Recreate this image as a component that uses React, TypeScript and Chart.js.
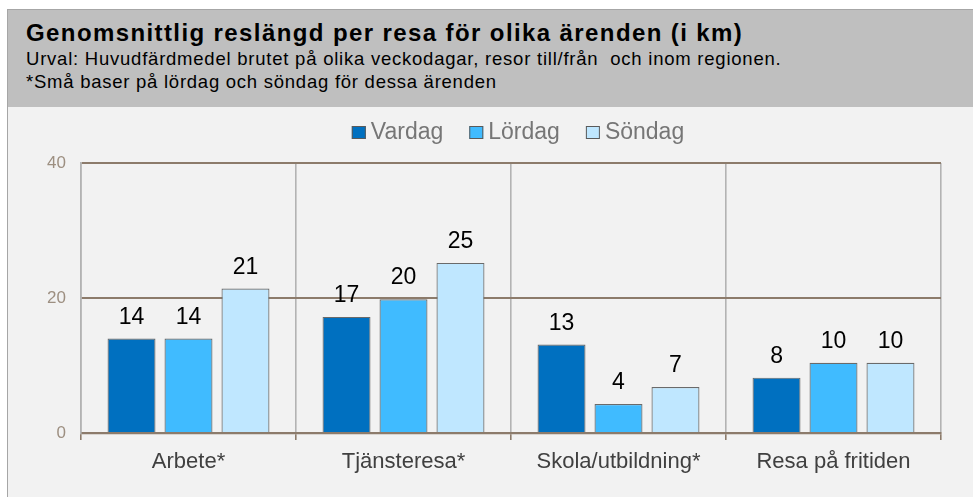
import React, { useEffect, useRef } from "react";
import { Chart, registerables } from "chart.js";

Chart.register(...registerables);

const categories = ["Arbete*", "Tjänsteresa*", "Skola/utbildning*", "Resa på fritiden"];
const seriesNames = ["Vardag", "Lördag", "Söndag"];
const vardag = [14.0, 17.2, 13.1, 8.2];
const lordag = [14.0, 19.8, 4.3, 10.4];
const sondag = [21.4, 25.2, 6.8, 10.4];
const yTicks = [0, 20, 40];
const colors = ["#0070C0", "#40BBFF", "#BFE7FF"];

const FONT = '"Liberation Sans", Arial, sans-serif';

const bgPlugin = {
  id: "bg",
  beforeDraw(chart: any) {
    const { ctx, width, height } = chart;
    ctx.save();
    ctx.fillStyle = "#f2f2f2";
    ctx.fillRect(0, 0, width, height);
    ctx.restore();
  },
};

const labelPlugin = {
  id: "valueLabels",
  afterDatasetsDraw(chart: any) {
    const { ctx } = chart;
    ctx.save();
    ctx.font = `23px ${FONT}`;
    ctx.fillStyle = "#000000";
    ctx.textAlign = "center";
    ctx.textBaseline = "alphabetic";
    chart.data.datasets.forEach((ds: any, i: number) => {
      const meta = chart.getDatasetMeta(i);
      meta.data.forEach((bar: any, j: number) => {
        const v = ds.data[j];
        ctx.fillText(String(Math.round(v)), bar.x, bar.y - 15);
      });
    });
    ctx.restore();
  },
};

const legendPlugin = {
  id: "customLegend",
  afterDraw(chart: any) {
    const { ctx, chartArea } = chart;
    ctx.save();
    ctx.font = `23px ${FONT}`;
    ctx.textBaseline = "middle";
    ctx.textAlign = "left";
    const box = 14;
    const gap = 5;
    const spacing = 26;
    const items = chart.data.datasets.map((ds: any) => ({
      label: ds.label,
      color: ds.backgroundColor,
      w: ctx.measureText(ds.label).width,
    }));
    const total =
      items.reduce((s: number, it: any) => s + box + gap + it.w, 0) + spacing * (items.length - 1);
    let x = (chartArea.left + chartArea.right) / 2 + 7 - total / 2;
    const yBox = 19;
    const yText = 26;
    items.forEach((it: any) => {
      ctx.fillStyle = it.color;
      ctx.fillRect(x, yBox, box, 13);
      ctx.strokeStyle = "#5a5a5a";
      ctx.lineWidth = 1;
      ctx.strokeRect(x + 0.5, yBox + 0.5, box - 1, 12);
      ctx.fillStyle = "#767676";
      ctx.fillText(it.label, x + box + gap, yText);
      x += box + gap + it.w + spacing;
    });
    ctx.restore();
  },
};

export default function App() {
  const canvasRef = useRef<HTMLCanvasElement | null>(null);

  useEffect(() => {
    if (!canvasRef.current) return;
    const data = [vardag, lordag, sondag];
    const chart = new Chart(canvasRef.current, {
      type: "bar",
      data: {
        labels: categories,
        datasets: seriesNames.map((name, i) => ({
          label: name,
          data: data[i],
          backgroundColor: colors[i],
          borderColor: "#6a6a6a",
          borderWidth: 1.2,
          categoryPercentage: 0.795,
          barPercentage: 0.842,
        })),
      },
      options: {
        animation: false,
        responsive: false,
        maintainAspectRatio: false,
        layout: { padding: { top: 56, right: 32, bottom: 0, left: 0 } },
        plugins: {
          legend: { display: false },
          tooltip: { enabled: false },
          title: { display: false },
        },
        scales: {
          x: {
            grid: {
              color: "#b3b3b3",
              lineWidth: 1.6,
              tickColor: "#8c7b6b",
              tickLength: 7,
              offset: true,
            },
            border: { color: "#8c7b6b", width: 2.2 },
            ticks: {
              color: "#404040",
              font: { size: 22, family: FONT },
              padding: 9,
            },
            afterFit(scale: any) {
              scale.height = 64;
            },
          },
          y: {
            min: 0,
            max: 40,
            afterBuildTicks(scale: any) {
              scale.ticks = yTicks.map((v) => ({ value: v }));
            },
            grid: {
              color: "#8c7b6b",
              lineWidth: 2,
              drawTicks: false,
            },
            border: { color: "#b3b3b3", width: 1.6 },
            ticks: {
              color: "#9d8f81",
              font: { size: 17, family: FONT },
              padding: 15,
            },
            afterFit(scale: any) {
              scale.width = 73;
            },
          },
        },
      },
      plugins: [bgPlugin, labelPlugin, legendPlugin],
    });
    return () => chart.destroy();
  }, []);

  const textBase: React.CSSProperties = {
    position: "absolute",
    left: 26,
    fontFamily: FONT,
    color: "#000",
    whiteSpace: "pre",
  };

  return (
    <div style={{ position: "absolute", left: 0, top: 0, width: 973, height: 497, background: "#fff", overflow: "hidden" }}>
      <div
        style={{
          position: "absolute",
          left: 7,
          top: 9,
          width: 966,
          height: 488,
          background: "#f2f2f2",
          borderLeft: "1px solid #a6a6a6",
          borderTop: "1px solid #a6a6a6",
          boxSizing: "border-box",
        }}
      />
      <div style={{ position: "absolute", left: 8, top: 10, width: 965, height: 97, background: "#bfbfbf" }} />
      <div style={{ ...textBase, top: 19, fontSize: 24, fontWeight: "bold", lineHeight: "28px", letterSpacing: "1.4px" }}>
        {"Genomsnittlig reslängd per resa för olika ärenden (i km)"}
      </div>
      <div style={{ ...textBase, top: 47, fontSize: 18.5, lineHeight: "23px", letterSpacing: "0.77px" }}>
        {"Urval: Huvudfärdmedel brutet på olika veckodagar, resor till/från  och inom regionen."}
      </div>
      <div style={{ ...textBase, top: 70, fontSize: 18.5, lineHeight: "23px", letterSpacing: "0.75px" }}>
        {"*Små baser på lördag och söndag för dessa ärenden"}
      </div>
      <canvas
        ref={canvasRef}
        width={965}
        height={390}
        style={{ position: "absolute", left: 8, top: 107, width: 965, height: 390 }}
      />
    </div>
  );
}
